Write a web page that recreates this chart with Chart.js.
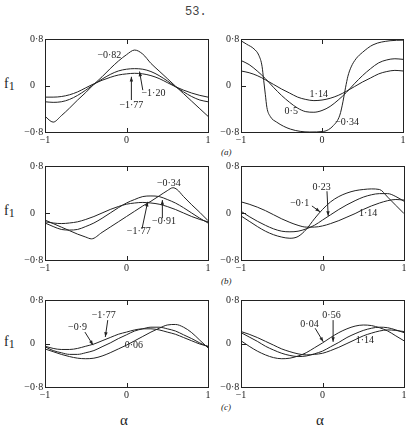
<!DOCTYPE html>
<html>
<head>
<meta charset="utf-8">
<script src="https://cdn.jsdelivr.net/npm/chart.js@4"></script>
<style>
  body { margin: 0; background: #fff; width: 406px; height: 435px; position: relative; overflow: hidden;
         font-family: "Liberation Serif", serif; color: #222; }
  canvas { position: absolute; }
  .txt { position: absolute; white-space: nowrap; line-height: 1; }
  .f1 { font-size: 14px; }
  .f1 span { font-size: 12px; position: relative; top: 2px; }
  .part { font-size: 9px; font-style: italic; }
  .alpha { font-size: 15px; }
</style>
</head>
<body>
<div class="txt" style="left:185px;top:6px;font-family:'Liberation Mono',monospace;font-size:12px;color:#444">53.</div>
<div class="txt f1" style="left:4px;top:77px">f<span>1</span></div>
<div class="txt f1" style="left:4px;top:204px">f<span>1</span></div>
<div class="txt f1" style="left:4px;top:335px">f<span>1</span></div>
<div class="txt part" style="left:221px;top:148px">(a)</div>
<div class="txt part" style="left:221px;top:277px">(b)</div>
<div class="txt part" style="left:221px;top:403px">(c)</div>
<div class="txt alpha" style="left:120px;top:413px">α</div>
<div class="txt alpha" style="left:316px;top:413px">α</div>
<script>
// abscissa shared by most curves
const alpha = [-1, -0.9, -0.8, -0.7, -0.6, -0.5, -0.4, -0.3, -0.2, -0.1, 0, 0.1, 0.2, 0.3, 0.4, 0.5, 0.6, 0.7, 0.8, 0.9, 1];
const xTicks = [-1, 0, 1];
const xTickLabels = ['−1', '0', '1'];
const yTicks = [0.8, 0, -0.8];
const yTickLabels = ['0·8', '0', '−0·8'];

// (a) left
const aL_m082 = [-0.53, -0.63, -0.52, -0.39, -0.25, -0.12, 0.02, 0.15, 0.29, 0.42, 0.53, 0.61, 0.54, 0.38, 0.25, 0.12, -0.01, -0.14, -0.27, -0.40, -0.53];
const aL_m120 = [-0.28, -0.29, -0.28, -0.24, -0.17, -0.08, 0.02, 0.11, 0.19, 0.25, 0.28, 0.29, 0.28, 0.24, 0.17, 0.08, -0.02, -0.11, -0.19, -0.25, -0.28];
const aL_m177 = [-0.20, -0.20, -0.19, -0.16, -0.11, -0.04, 0.03, 0.09, 0.14, 0.18, 0.20, 0.21, 0.20, 0.17, 0.12, 0.05, -0.02, -0.08, -0.13, -0.17, -0.20];

// (a) right
const aR_m034_x = [-1, -0.93, -0.84, -0.78, -0.74, -0.72, -0.70, -0.68, -0.64, -0.56, -0.39, -0.15, 0.02, 0.14, 0.22, 0.26, 0.29, 0.32, 0.36, 0.42, 0.5, 0.63, 0.84, 1];
const aR_m034 = [0.77, 0.71, 0.63, 0.52, 0.33, 0.09, -0.15, -0.38, -0.53, -0.63, -0.75, -0.80, -0.79, -0.69, -0.51, -0.27, -0.04, 0.16, 0.32, 0.46, 0.57, 0.70, 0.77, 0.78];
const aR_050 = [0.43, 0.36, 0.25, 0.12, -0.03, -0.17, -0.29, -0.39, -0.45, -0.46, -0.43, -0.36, -0.25, -0.12, 0.03, 0.17, 0.29, 0.39, 0.44, 0.46, 0.45];
const aR_114 = [0.25, 0.22, 0.17, 0.10, 0.02, -0.06, -0.13, -0.20, -0.24, -0.26, -0.25, -0.22, -0.17, -0.10, -0.02, 0.06, 0.13, 0.20, 0.24, 0.26, 0.25];

// (b) left
const bL_m034_x = [-1, -0.9, -0.8, -0.7, -0.6, -0.5, -0.43, -0.3, -0.2, -0.1, 0, 0.1, 0.2, 0.3, 0.4, 0.5, 0.57, 0.62, 0.7, 0.8, 0.9, 1];
const bL_m034 = [-0.12, -0.18, -0.24, -0.30, -0.36, -0.41, -0.44, -0.33, -0.24, -0.15, -0.06, 0.03, 0.12, 0.20, 0.29, 0.38, 0.43, 0.40, 0.28, 0.14, 0.01, -0.13];
const bL_m091 = [-0.17, -0.23, -0.28, -0.29, -0.28, -0.23, -0.17, -0.09, 0.00, 0.09, 0.17, 0.23, 0.28, 0.29, 0.28, 0.23, 0.17, 0.09, 0.00, -0.09, -0.17];
const bL_m177 = [-0.15, -0.17, -0.18, -0.17, -0.15, -0.11, -0.06, 0.00, 0.06, 0.11, 0.15, 0.17, 0.18, 0.17, 0.15, 0.11, 0.06, 0.00, -0.06, -0.11, -0.15];

// (b) right
const bR_m01 = [-0.05, -0.14, -0.23, -0.31, -0.37, -0.41, -0.43, -0.40, -0.28, -0.10, 0.06, 0.19, 0.28, 0.34, 0.38, 0.40, 0.41, 0.40, 0.27, 0.13, -0.01];
const bR_023 = [0.03, -0.06, -0.14, -0.21, -0.27, -0.31, -0.32, -0.31, -0.27, -0.21, -0.12, -0.03, 0.06, 0.14, 0.21, 0.27, 0.31, 0.33, 0.33, 0.28, 0.20];
const bR_114 = [0.19, 0.15, 0.10, 0.04, -0.03, -0.10, -0.16, -0.21, -0.24, -0.24, -0.22, -0.18, -0.13, -0.07, -0.01, 0.06, 0.12, 0.17, 0.21, 0.23, 0.22];

// (c) left
const cL_m177 = [-0.05, -0.09, -0.11, -0.11, -0.09, -0.05, -0.01, 0.05, 0.11, 0.17, 0.21, 0.25, 0.27, 0.27, 0.25, 0.21, 0.17, 0.11, 0.05, -0.01, -0.05];
const cL_m09 = [-0.06, -0.13, -0.17, -0.20, -0.20, -0.17, -0.13, -0.06, 0.01, 0.09, 0.16, 0.23, 0.27, 0.30, 0.30, 0.27, 0.23, 0.16, 0.09, 0.01, -0.06];
const cL_006 = [-0.10, -0.15, -0.20, -0.24, -0.27, -0.28, -0.27, -0.23, -0.17, -0.10, -0.03, 0.05, 0.13, 0.21, 0.28, 0.34, 0.35, 0.30, 0.20, 0.06, -0.08];

// (c) right
const cR_004 = [0.05, -0.05, -0.14, -0.21, -0.26, -0.28, -0.27, -0.23, -0.17, -0.08, 0.01, 0.11, 0.20, 0.27, 0.32, 0.34, 0.33, 0.29, 0.23, 0.14, 0.05];
const cR_056 = [0.20, 0.12, 0.04, -0.05, -0.12, -0.18, -0.22, -0.24, -0.23, -0.19, -0.14, -0.06, 0.02, 0.11, 0.18, 0.24, 0.28, 0.30, 0.29, 0.25, 0.20];
const cR_114 = [0.22, 0.17, 0.11, 0.04, -0.03, -0.10, -0.15, -0.19, -0.21, -0.20, -0.18, -0.13, -0.07, 0.00, 0.07, 0.14, 0.19, 0.23, 0.25, 0.24, 0.22];

const ink = '#222';
const noteFont = '10px "Liberation Serif"';

// box = [left, top, right, bottom] of each frame on the page; notes in data units
const panels = [
    { box: [45, 39, 208, 132], curves: [[alpha, aL_m082], [alpha, aL_m120], [alpha, aL_m177]],
      notes: [{ t: '−0·82', x: -0.21, y: 0.52 },
              { t: '−1·20', x: 0.33, y: -0.13, from: [0.20, -0.08], to: [0.16, 0.24] },
              { t: '−1·77', x: 0.06, y: -0.34, from: [0.06, -0.25], to: [0.06, 0.15] }] },
    { box: [241, 39, 403, 132], curves: [[aR_m034_x, aR_m034], [alpha, aR_050], [alpha, aR_114]],
      notes: [{ t: '1·14', x: -0.04, y: -0.16 },
              { t: '0·5', x: -0.38, y: -0.45 },
              { t: '−0·34', x: 0.31, y: -0.64 }] },
    { box: [45, 166, 208, 260], curves: [[bL_m034_x, bL_m034], [alpha, bL_m091], [alpha, bL_m177]],
      notes: [{ t: '−0·34', x: 0.52, y: 0.51 },
              { t: '−0·91', x: 0.46, y: -0.15, from: [0.44, -0.09], to: [0.44, 0.22] },
              { t: '−1·77', x: 0.15, y: -0.32, from: [0.19, -0.27], to: [0.26, 0.19] }] },
    { box: [241, 166, 404, 260], curves: [[alpha, bR_m01], [alpha, bR_023], [alpha, bR_114]],
      notes: [{ t: '0·23', x: -0.01, y: 0.44, from: [0.055, 0.37], to: [0.07, -0.05] },
              { t: '−0·1', x: -0.28, y: 0.17, from: [-0.13, 0.12], to: [-0.03, 0.02] },
              { t: '1·14', x: 0.56, y: 0.0 }] },
    { box: [45, 300, 208, 387], curves: [[alpha, cL_m177], [alpha, cL_m09], [alpha, cL_006]],
      notes: [{ t: '−1·77', x: -0.28, y: 0.51, from: [-0.23, 0.43], to: [-0.26, 0.12] },
              { t: '−0·9', x: -0.6, y: 0.30, from: [-0.51, 0.21], to: [-0.41, -0.03] },
              { t: '0·06', x: 0.09, y: -0.03 }] },
    { box: [241, 300, 404, 387], curves: [[alpha, cR_004], [alpha, cR_056], [alpha, cR_114]],
      notes: [{ t: '0·04', x: -0.16, y: 0.36, from: [-0.09, 0.28], to: [0.01, 0.03] },
              { t: '0·56', x: 0.11, y: 0.51, from: [0.13, 0.43], to: [0.13, 0.03] },
              { t: '1·14', x: 0.52, y: 0.06 }] }
];

// frame, inward ticks, tick labels and curve labels
function framePlugin(notes) {
    return {
        id: 'frame',
        afterDraw: function (chart) {
            const ctx = chart.ctx, a = chart.chartArea;
            const xs = chart.scales.x, ys = chart.scales.y;
            ctx.save();
            ctx.strokeStyle = ink;
            ctx.fillStyle = ink;
            ctx.lineWidth = 1;
            ctx.strokeRect(a.left + 0.5, a.top + 0.5, a.right - a.left, a.bottom - a.top);

            const x0 = Math.round(xs.getPixelForValue(0)) + 0.5;
            const y0 = Math.round(ys.getPixelForValue(0)) + 0.5;
            ctx.beginPath();
            ctx.moveTo(x0, a.top); ctx.lineTo(x0, a.top + 5);
            ctx.moveTo(x0, a.bottom + 1); ctx.lineTo(x0, a.bottom - 4);
            ctx.moveTo(a.left, y0); ctx.lineTo(a.left + 5, y0);
            ctx.stroke();

            ctx.font = '10px "Liberation Serif"';
            ctx.textAlign = 'center';
            ctx.textBaseline = 'top';
            xTicks.forEach(function (v, i) {
                ctx.fillText(xTickLabels[i], xs.getPixelForValue(v), a.bottom + 3);
            });
            ctx.textBaseline = 'middle';
            yTicks.forEach(function (v, i) {
                const parts = yTickLabels[i].split('·');
                const py = ys.getPixelForValue(v);
                ctx.textAlign = 'right';
                ctx.fillText(parts[0], a.left - 10, py);
                if (parts.length > 1) {
                    ctx.textAlign = 'left';
                    ctx.fillText('·' + parts[1], a.left - 10, py);
                }
            });

            ctx.font = noteFont;
            ctx.textAlign = 'center';
            notes.forEach(function (n) {
                ctx.fillText(n.t, xs.getPixelForValue(n.x), ys.getPixelForValue(n.y));
                if (n.from) {
                    const x1 = xs.getPixelForValue(n.from[0]), y1 = ys.getPixelForValue(n.from[1]);
                    const x2 = xs.getPixelForValue(n.to[0]), y2 = ys.getPixelForValue(n.to[1]);
                    ctx.beginPath();
                    ctx.moveTo(x1, y1); ctx.lineTo(x2, y2);
                    ctx.stroke();
                    const ang = Math.atan2(y2 - y1, x2 - x1);
                    ctx.beginPath();
                    ctx.moveTo(x2, y2);
                    ctx.lineTo(x2 - 5 * Math.cos(ang - 0.35), y2 - 5 * Math.sin(ang - 0.35));
                    ctx.lineTo(x2 - 5 * Math.cos(ang + 0.35), y2 - 5 * Math.sin(ang + 0.35));
                    ctx.closePath();
                    ctx.fill();
                }
            });
            ctx.restore();
        }
    };
}

const pad = { left: 45, top: 10, right: 10, bottom: 20 };

panels.forEach(function (p) {
    const l = p.box[0], t = p.box[1], r = p.box[2], b = p.box[3];
    const cv = document.createElement('canvas');
    cv.width = r - l + pad.left + pad.right;
    cv.height = b - t + pad.top + pad.bottom;
    cv.style.left = (l - pad.left) + 'px';
    cv.style.top = (t - pad.top) + 'px';
    cv.style.width = cv.width + 'px';
    cv.style.height = cv.height + 'px';
    document.body.appendChild(cv);

    new Chart(cv.getContext('2d'), {
        type: 'line',
        data: {
            datasets: p.curves.map(function (c) {
                return {
                    data: c[0].map(function (x, i) { return { x: x, y: c[1][i] }; }),
                    borderColor: ink,
                    borderWidth: 1,
                    pointRadius: 0,
                    fill: false,
                    cubicInterpolationMode: 'monotone'
                };
            })
        },
        options: {
            responsive: false,
            animation: false,
            devicePixelRatio: 1,
            layout: { padding: pad },
            scales: {
                x: { type: 'linear', min: -1, max: 1, display: false },
                y: { min: -0.8, max: 0.8, display: false }
            },
            plugins: {
                legend: { display: false },
                tooltip: { enabled: false }
            }
        },
        plugins: [framePlugin(p.notes)]
    });
});
</script>
</body>
</html>
